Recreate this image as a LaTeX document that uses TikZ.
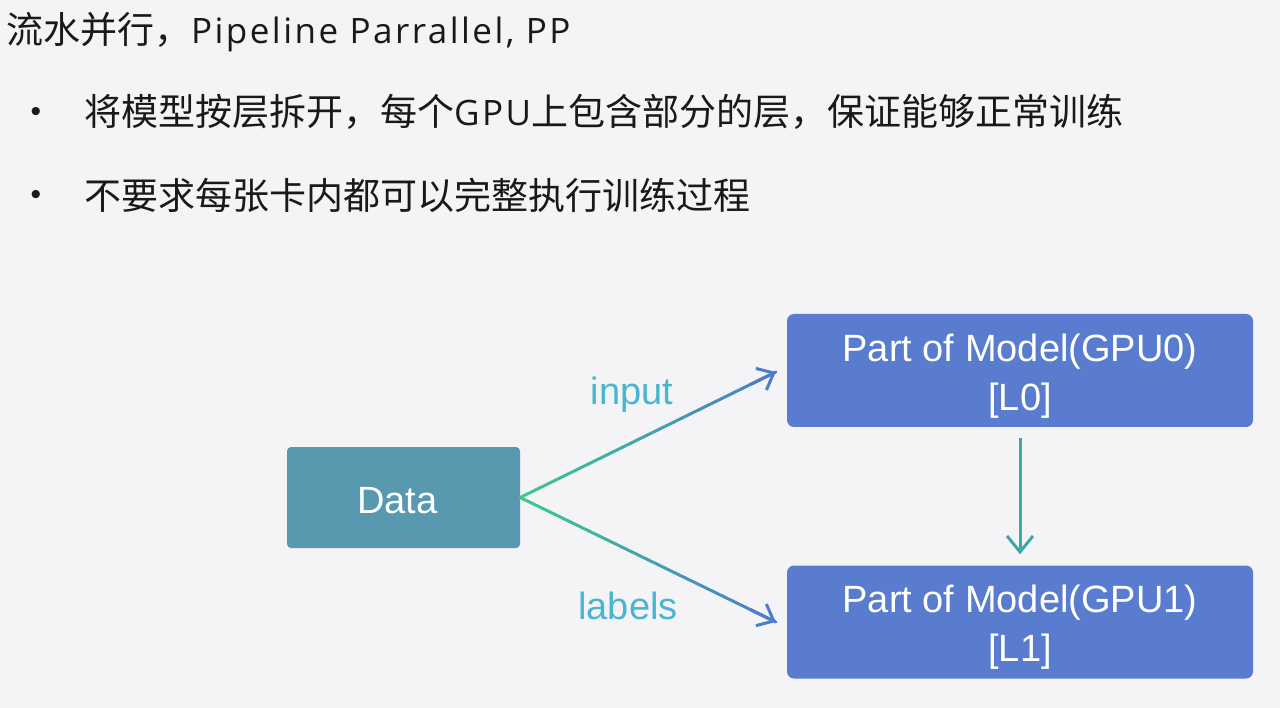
\documentclass[tikz,border=0pt]{standalone}
\usepackage{fontspec}
\usetikzlibrary{arrows.meta,calc}
\newfontfamily\cjkfont{Noto Sans CJK SC}
\newfontfamily\latinfont[LetterSpace=7]{Open Sans}
\newfontfamily\arialfont{Liberation Sans}
\definecolor{bgcol}{HTML}{F4F4F6}
\definecolor{datacol}{HTML}{5899B0}
\definecolor{gpucol}{HTML}{597CCE}
\definecolor{gstart}{HTML}{3DC98D}
\definecolor{gend}{HTML}{4A7ECC}
\definecolor{labelcol}{HTML}{48B6D0}
\definecolor{downcol}{HTML}{3BAAA5}
\newcommand{\lat}[1]{{\latinfont\fontsize{35}{44}\selectfont #1}}
\tikzset{
  cjktext/.style={anchor=west, inner sep=0pt, text=black!90,
    font=\cjkfont\fontsize{37}{44}\selectfont},
  bulletdot/.style={anchor=center, inner sep=0pt, text=black!90,
    font=\arialfont\fontsize{30}{34}\selectfont},
  gpubox/.style={fill=gpucol, rounded corners=7pt, minimum width=466pt,
    minimum height=113pt, inner sep=0pt, text=white, align=center,
    font=\arialfont\fontsize{38}{49}\selectfont},
  databox/.style={fill=datacol, rounded corners=4pt, minimum width=233pt,
    minimum height=101pt, inner sep=0pt, text=white,
    font=\arialfont\fontsize{38}{46}\selectfont},
  edgelabel/.style={inner sep=0pt, text=labelcol,
    font=\arialfont\fontsize{38}{46}\selectfont},
  headtip/.style={-{Straight Barb[length=14pt,width=24pt]}},
  downtip/.style={-{Straight Barb[length=16pt,width=26pt]}},
}
\begin{document}
\begin{tikzpicture}[x=1pt,y=-1pt]
  \fill[bgcol] (0,0) rectangle (1280,708);
  \useasboundingbox (0,0) rectangle (1280,708);

  % heading and bullet points
  \node[cjktext] (title) at (6,32) {流水并行，\lat{Pipeline Parrallel, PP}};
  \node[bulletdot] (dot1) at (36,115) {•};
  \node[cjktext] (item1) at (84,112) {将模型按层拆开，每个\lat{GPU}上包含部分的层，保证能够正常训练};
  \node[bulletdot] (dot2) at (36,198) {•};
  \node[cjktext] (item2) at (84,195) {不要求每张卡内都可以完整执行训练过程};

  % boxes
  \node[databox] (data) at (403.5,497.5) {\rule{0pt}{33pt}Data\hspace*{12pt}};
  \node[gpubox] (g0) at (1020,370.5) {\rule{0pt}{38pt}Part of Model(GPU0)\\{[L0]}};
  \node[gpubox] (g1) at (1020,622) {\rule{0pt}{38pt}Part of Model(GPU1)\\{[L1]}};

  % free ends of the two fan-out arrows
  \coordinate (t0) at ($(g0.west)+(-11,1.5)$);
  \coordinate (t1) at ($(g1.west)+(-11,0)$);

  % gradient fan-out arrows, drawn as short coloured pieces
  \foreach \tgt in {t0,t1}{
    \foreach \k in {0,...,29}{
      \pgfmathsetmacro\ta{\k/30}
      \pgfmathsetmacro\tb{(\k+1)/30}
      \pgfmathtruncatemacro\mix{100-100*\k/29}
      \draw[line width=3pt, line cap=round, draw=gstart!\mix!gend]
        ($(data.east)!\ta!(\tgt)$) -- ($(data.east)!\tb!(\tgt)$);
    }
    \draw[line width=3pt, draw=gend, headtip]
      ($(data.east)!0.9!(\tgt)$) -- (\tgt);
  }

  \node[edgelabel] (lin) at (632,395) {input};
  \node[edgelabel] (llab) at (628,606) {labels};

  % arrow between the two model parts
  \draw[line width=3pt, draw=downcol, downtip, shorten <=11pt, shorten >=11pt]
    (g0.south) -- (g1.north);
\end{tikzpicture}
\end{document}
